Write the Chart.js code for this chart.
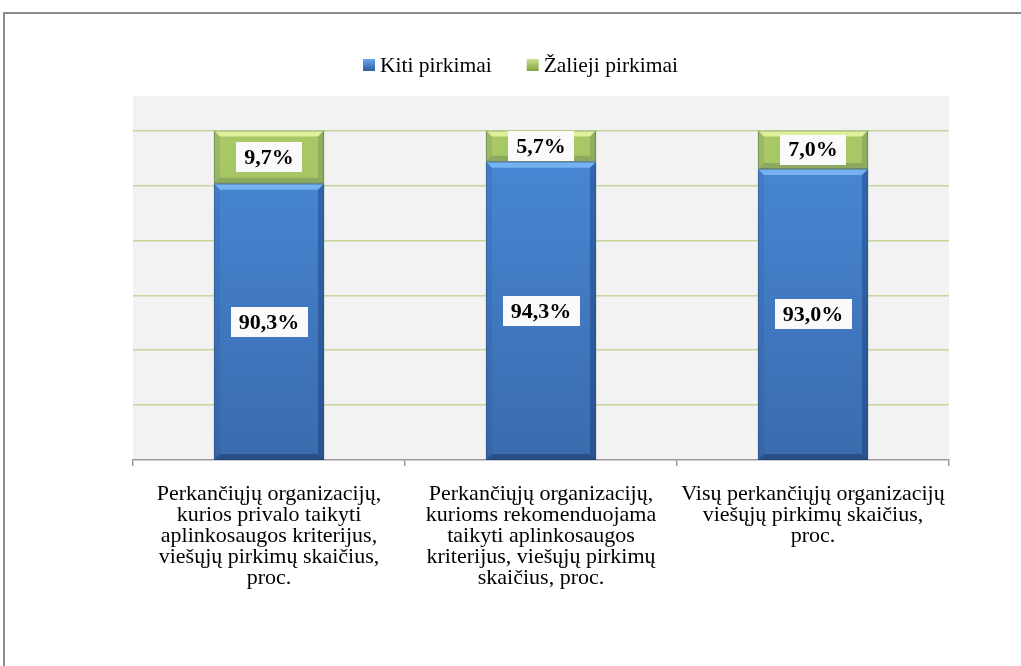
<!DOCTYPE html>
<html><head><meta charset="utf-8">
<script src="https://cdn.jsdelivr.net/npm/chart.js@4/dist/chart.umd.min.js"></script>
<style>html,body{margin:0;padding:0;background:#fff;overflow:hidden}#wrap{position:relative;width:1021px;height:666px}</style>
</head><body><div id="wrap"><canvas id="c" width="1021" height="666"></canvas></div>
<script>
const categories = [
  ['Perkančiųjų organizacijų,', 'kurios privalo taikyti', 'aplinkosaugos kriterijus,', 'viešųjų pirkimų skaičius,', 'proc.'],
  ['Perkančiųjų organizacijų,', 'kurioms rekomenduojama', 'taikyti aplinkosaugos', 'kriterijus, viešųjų pirkimų', 'skaičius, proc.'],
  ['Visų perkančiųjų organizacijų', 'viešųjų pirkimų skaičius,', 'proc.']
];
const seriesNames = ['Kiti pirkimai', 'Žalieji pirkimai'];
const kitiValues = [90.3, 94.3, 93.0];
const zaliejiValues = [9.7, 5.7, 7.0];
const axisMin = 40, axisMax = 106.3, gridStep = 10, gridTop = 100;

const SERIF = '"Liberation Serif", "Times New Roman", serif';
const palette = {
  blue: {top: '#4a8cdb', bottom: '#3a6bae', hi: '#7cbaf8', edge: 0.28, bottomEdge: 0.32, legend: ['#6aa6ec', '#2f5d9c']},
  green: {top: '#a9c868', bottom: '#a0bf5c', hi: '#e6f7a6', edge: 0.14, bottomEdge: 0.16, legend: ['#c8e08a', '#86a443']}
};

function gradFill(which) {
  return (ctx) => {
    const chart = ctx.chart, ca = chart.chartArea;
    const p = palette[which];
    if (!ca) return p.top;
    const g = chart.ctx.createLinearGradient(0, ca.top, 0, ca.bottom);
    g.addColorStop(0, p.top);
    g.addColorStop(1, p.bottom);
    return g;
  };
}

const framePlugin = {
  id: 'frame',
  beforeDraw(chart) {
    const c = chart.ctx, ca = chart.chartArea;
    c.save();
    c.fillStyle = '#fff';
    c.fillRect(0, 0, chart.width, chart.height);
    c.strokeStyle = '#8c8c8c';
    c.lineWidth = 2;
    c.beginPath();
    c.moveTo(4, chart.height + 2); c.lineTo(4, 13); c.lineTo(chart.width + 2, 13);
    c.stroke();
    c.fillStyle = '#f2f2f2';
    c.fillRect(ca.left, ca.top, ca.right - ca.left, ca.bottom - ca.top);
    c.restore();
  }
};

const legendPlugin = {
  id: 'customLegend',
  afterDraw(chart) {
    const c = chart.ctx;
    c.save();
    c.font = '21.5px ' + SERIF;
    c.textBaseline = 'middle';
    c.textAlign = 'left';
    let x = 363; const y = 65;
    const keys = ['blue', 'green'];
    chart.data.datasets.forEach((ds, i) => {
      const p = palette[keys[i]];
      const g = c.createLinearGradient(0, y - 6, 0, y + 6);
      g.addColorStop(0, p.legend[0]); g.addColorStop(1, p.legend[1]);
      c.fillStyle = g;
      c.fillRect(x, y - 6, 12, 12);
      c.fillStyle = '#000';
      c.fillText(ds.label, x + 17, y + 1);
      x += 17 + c.measureText(ds.label).width + 35;
    });
    c.restore();
  }
};

const bevelPlugin = {
  id: 'bevel',
  afterDatasetsDraw(chart) {
    const c = chart.ctx, ca = chart.chartArea;
    const keys = ['blue', 'green'];
    c.save();
    c.beginPath(); c.rect(ca.left, ca.top - 5, ca.right - ca.left, ca.bottom - ca.top + 5); c.clip();
    chart.data.datasets.forEach((ds, i) => {
      const meta = chart.getDatasetMeta(i);
      const p = palette[keys[i]];
      meta.data.forEach((el) => {
        const l = el.x - el.width / 2, r = el.x + el.width / 2;
        const t = Math.max(el.y, ca.top), b = Math.min(el.base, ca.bottom);
        const bv = 6;
        c.fillStyle = p.hi;
        c.globalAlpha = 0.85;
        c.beginPath(); c.moveTo(l, t); c.lineTo(r, t); c.lineTo(r - bv, t + bv); c.lineTo(l + bv, t + bv); c.closePath(); c.fill();
        c.globalAlpha = 1;
        c.fillStyle = 'rgba(0,20,60,0.08)';
        c.beginPath(); c.moveTo(l, t); c.lineTo(l + bv, t + bv); c.lineTo(l + bv, b - bv); c.lineTo(l, b); c.closePath(); c.fill();
        c.fillStyle = 'rgba(0,20,60,' + p.edge + ')';
        c.beginPath(); c.moveTo(r, t); c.lineTo(r - bv, t + bv); c.lineTo(r - bv, b - bv); c.lineTo(r, b); c.closePath(); c.fill();
        c.fillStyle = 'rgba(0,20,60,' + p.bottomEdge + ')';
        c.beginPath(); c.moveTo(l, b); c.lineTo(r, b); c.lineTo(r - bv, b - bv); c.lineTo(l + bv, b - bv); c.closePath(); c.fill();
        c.strokeStyle = 'rgba(40,60,80,0.3)';
        c.lineWidth = 1;
        c.strokeRect(l + 0.5, t + 0.5, r - l - 1, b - t - 1);
      });
    });
    c.restore();
  }
};

const labelPlugin = {
  id: 'valueLabels',
  afterDatasetsDraw(chart) {
    const c = chart.ctx, ca = chart.chartArea;
    c.save();
    c.font = 'bold 22px ' + SERIF;
    c.textAlign = 'center';
    c.textBaseline = 'middle';
    chart.data.datasets.forEach((ds, i) => {
      const meta = chart.getDatasetMeta(i);
      meta.data.forEach((el, j) => {
        const t = Math.max(el.y, ca.top), b = Math.min(el.base, ca.bottom);
        const cy = (t + b) / 2;
        const txt = ds.data[j].toFixed(1).replace('.', ',') + '%';
        const w = c.measureText(txt).width + 16;
        c.fillStyle = '#fafafa';
        c.fillRect(Math.round(el.x - w / 2), Math.round(cy - 15), Math.round(w), 30);
        c.fillStyle = '#000';
        c.fillText(txt, el.x, cy + 1);
      });
    });
    c.restore();
  }
};

new Chart(document.getElementById('c'), {
  type: 'bar',
  data: {
    labels: categories,
    datasets: [
      {label: seriesNames[0], data: kitiValues, backgroundColor: gradFill('blue'), barPercentage: 0.405, categoryPercentage: 1},
      {label: seriesNames[1], data: zaliejiValues, backgroundColor: gradFill('green'), barPercentage: 0.405, categoryPercentage: 1}
    ]
  },
  options: {
    responsive: false,
    animation: false,
    devicePixelRatio: 1,
    layout: {padding: {left: 133, right: 72, top: 96, bottom: 59}},
    plugins: {legend: {display: false}, tooltip: {enabled: false}},
    scales: {
      x: {
        stacked: true,
        offset: true,
        grid: {display: true, drawOnChartArea: false, drawTicks: true, tickLength: 6, color: '#9a9a9a', lineWidth: 1.5, offset: true},
        border: {display: true, color: '#9a9a9a', width: 1.5},
        ticks: {color: '#000', font: {family: SERIF, size: 22, lineHeight: 0.955}, padding: 18, maxRotation: 0, autoSkip: false}
      },
      y: {
        stacked: true,
        min: axisMin, max: axisMax,
        ticks: {display: false, stepSize: gridStep},
        grid: {drawTicks: false, lineWidth: 1.5, color: (ctx) => (ctx.tick && ctx.tick.value > axisMin && ctx.tick.value <= gridTop + 1e-6) ? '#c3d69b' : 'rgba(0,0,0,0)'},
        border: {display: false},
        afterBuildTicks: (s) => { s.ticks = s.ticks.filter(t => t.value <= gridTop + 1e-6); }
      }
    }
  },
  plugins: [framePlugin, bevelPlugin, labelPlugin, legendPlugin]
});
</script>
</body></html>
